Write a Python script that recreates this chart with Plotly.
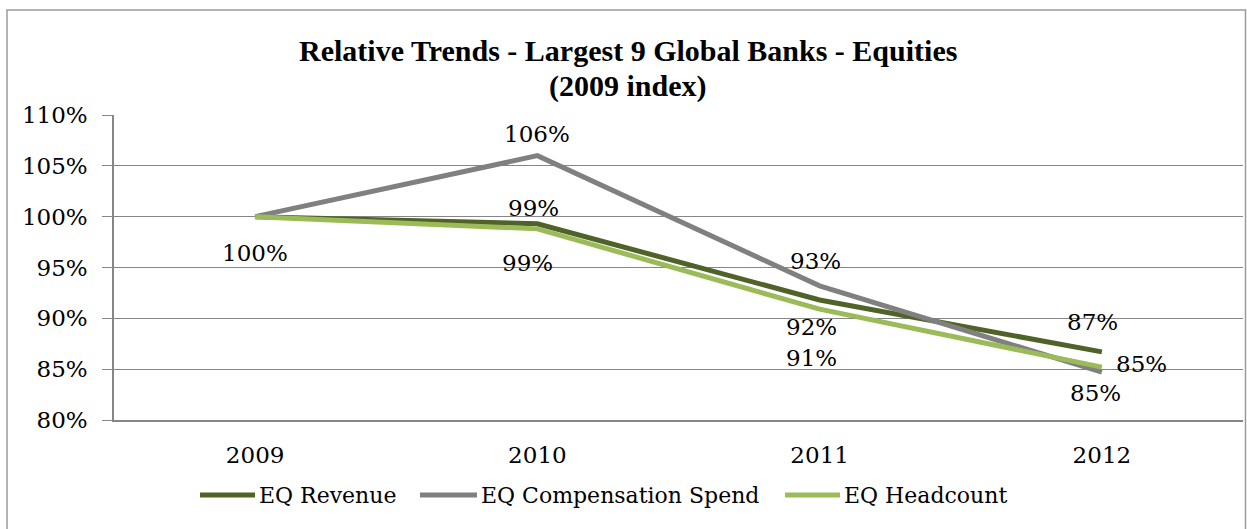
import plotly.graph_objects as go

# Index values (2009 = 100%)
years = ["2009", "2010", "2011", "2012"]
eq_revenue = [100.0, 99.3, 91.8, 86.7]
eq_compensation = [100.0, 106.0, 93.2, 84.7]
eq_headcount = [100.0, 98.8, 90.9, 85.2]

series_names = ["EQ Revenue", "EQ Compensation Spend", "EQ Headcount"]
colors = ["#4F6228", "#808080", "#9BBB59"]

title_lines = ["Relative Trends - Largest 9 Global Banks - Equities", "(2009 index)"]

# Data-label placement: (series index, point index, x shift px, y shift px)
label_spots = [
    (0, 0, 0, -36),
    (1, 1, 0, 22),
    (0, 1, -4, 16),
    (2, 1, -10, -34),
    (1, 2, -4, 25),
    (0, 2, -8, -27),
    (2, 2, -8, -49),
    (0, 3, -9, 30),
    (2, 3, 40, 3),
    (1, 3, -6, -21),
]

W, H = 1247, 529
L, R, T, B = 114, 4, 115, 109
PW, PH = W - L - R, H - T - B


def px_x(x):
    """pixel column -> paper x"""
    return (x - L) / PW


def px_y(y):
    """pixel row -> paper y"""
    return (T + PH - y) / PH


body_font = "DejaVu Serif"
grid_col = "#868686"

fig = go.Figure()
all_series = [eq_revenue, eq_compensation, eq_headcount]
for name, vals, col in zip(series_names, all_series, colors):
    fig.add_trace(go.Scatter(
        x=years, y=vals, name=name, mode="lines",
        line=dict(color=col, width=5),
        hoverinfo="skip", showlegend=False,
    ))

for si, pi, dx, dy in label_spots:
    v = all_series[si][pi]
    fig.add_annotation(
        x=pi, y=v, xref="x", yref="y",
        text=f"{round(v):.0f}%", showarrow=False,
        xshift=dx, yshift=dy,
        font=dict(family=body_font, size=23, color="#000000"),
    )

# two-line bold title
for line, yc in zip(title_lines, [51, 86]):
    fig.add_annotation(
        x=px_x(628), y=px_y(yc), xref="paper", yref="paper",
        xanchor="center", yanchor="middle", showarrow=False,
        text=f"<b>{line}</b>",
        font=dict(family="Liberation Serif", size=30, color="#000000"),
    )

# legend row: sample line + label for each series
legend_slots = [(200, 255), (420, 477), (785, 840)]
legend_y = 495
for (x0, x1), name, col in zip(legend_slots, series_names, colors):
    fig.add_shape(
        type="line", xref="paper", yref="paper",
        x0=px_x(x0), x1=px_x(x1), y0=px_y(legend_y), y1=px_y(legend_y),
        line=dict(color=col, width=5),
    )
    fig.add_annotation(
        x=px_x(x1 + 2), y=px_y(legend_y), xref="paper", yref="paper",
        xanchor="left", yanchor="middle", showarrow=False,
        text=name,
        font=dict(family=body_font, size=22, color="#000000"),
    )

# outer chart frame
fig.add_shape(
    type="rect", xref="paper", yref="paper",
    x0=px_x(7), x1=px_x(1245.5),
    y0=px_y(540), y1=px_y(10),
    line=dict(color="#9a9a9a", width=1.5), fillcolor="rgba(0,0,0,0)",
    layer="below",
)

fig.update_layout(
    width=W, height=H,
    margin=dict(l=L, r=R, t=T, b=B),
    paper_bgcolor="#FFFFFF", plot_bgcolor="#FFFFFF",
    showlegend=False,
    xaxis=dict(
        type="category", range=[-0.5, 3.5],
        showline=True, linecolor=grid_col, linewidth=1.5,
        showgrid=False, ticks="",
        tickfont=dict(family=body_font, size=23, color="#000000"),
        ticklabelstandoff=14,
    ),
    yaxis=dict(
        range=[80, 110], dtick=5, tick0=80, ticksuffix="%",
        showgrid=True, gridcolor=grid_col, gridwidth=1.3,
        showline=True, linecolor=grid_col, linewidth=1.5,
        ticks="outside", ticklen=10, tickcolor=grid_col, tickwidth=1.3,
        tickfont=dict(family=body_font, size=23, color="#000000"),
        ticklabelstandoff=10,
        zeroline=False,
    ),
)

fig.write_html("out.html")
